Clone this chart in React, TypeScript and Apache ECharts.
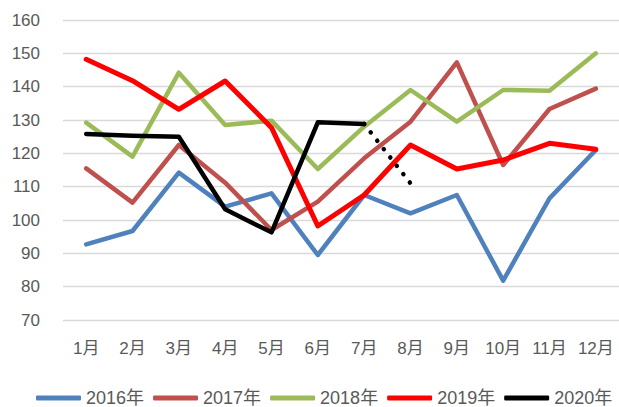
import React, { useEffect, useRef } from "react";
import * as echarts from "echarts";

const months = ["1月", "2月", "3月", "4月", "5月", "6月", "7月", "8月", "9月", "10月", "11月", "12月"];
const s2016 = [92.7, 96.7, 114.2, 104, 108, 89.5, 107.5, 102, 107.5, 81.8, 106.5, 121];
const s2017 = [115.5, 105.2, 122.5, 111.2, 97, 105.5, 118.5, 129.5, 147.3, 116.5, 133.3, 139.4];
const s2018 = [129.2, 119, 144.2, 128.5, 129.8, 115.3, 128, 139, 129.5, 139, 138.8, 150];
const s2019 = [148.2, 141.8, 133.2, 141.7, 127.7, 98.2, 107.5, 122.5, 115.3, 118, 123, 121.2];
const s2020 = [125.8, 125.3, 125, 103.2, 96.3, 129.3, 128.8, null, null, null, null, null];
const s2020Forecast = [null, null, null, null, null, null, 128.8, 111, null, null, null, null];
const seriesNames = ["2016年", "2017年", "2018年", "2019年", "2020年"];
const colors = ["#4F81BD", "#C0504D", "#9BBB59", "#FF0000", "#000000"];

const FONT = "'Liberation Sans', 'Noto Sans CJK SC', sans-serif";

export default function App() {
  const ref = useRef<HTMLDivElement>(null);
  useEffect(() => {
    document.body.style.margin = "0";
    const chart = echarts.init(ref.current!, null, { renderer: "svg" });
    const data = [s2016, s2017, s2018, s2019, s2020];
    const series: any[] = data.map((d, i) => ({
      name: seriesNames[i],
      type: "line",
      data: d,
      symbol: "none",
      color: colors[i],
      lineStyle: { width: i === 3 ? 5 : 4.5, color: colors[i], cap: "round", join: "round" },
    }));
    series.push({
      name: "2020年预测",
      type: "line",
      data: s2020Forecast,
      symbol: "none",
      color: "#000000",
      lineStyle: { width: 4.5, color: "#000000", type: [0.1, 10.5], cap: "round", dashOffset: 0 },
    });
    chart.setOption({
      animation: false,
      grid: { left: 63, right: -4, top: 20, height: 300, containLabel: false },
      legend: {
        data: seriesNames,
        left: 36,
        top: 388,
        padding: 0,
        icon: "roundRect",
        itemWidth: 45,
        itemHeight: 5,
        itemGap: 9,
        textStyle: { fontFamily: FONT, fontSize: 18, color: "#595959", lineHeight: 20 },
      },
      xAxis: {
        type: "category",
        data: months,
        boundaryGap: true,
        axisLine: { show: false },
        axisTick: { show: false },
        axisLabel: { interval: 0, margin: 20, fontFamily: FONT, fontSize: 17, color: "#595959" },
      },
      yAxis: {
        type: "value",
        min: 70,
        max: 160,
        interval: 10,
        axisLine: { show: false },
        axisTick: { show: false },
        splitLine: { lineStyle: { color: "#D9D9D9", width: 1.3 } },
        axisLabel: { margin: 23, fontFamily: FONT, fontSize: 17, color: "#595959" },
      },
      series,
    });
    return () => chart.dispose();
  }, []);
  return <div ref={ref} style={{ position: "absolute", left: 0, top: 0, width: 619, height: 407 }} />;
}
